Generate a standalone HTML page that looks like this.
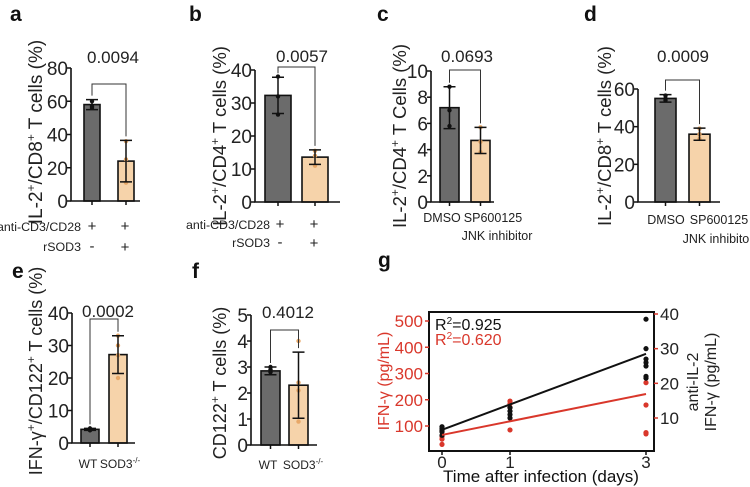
<!DOCTYPE html>
<html><head><meta charset="utf-8"><style>
body{margin:0;background:#fff;}
svg{display:block;font-family:"Liberation Sans",Arial,sans-serif;}
</style></head><body>
<svg id="fig" width="750" height="487" viewBox="0 0 750 487"></svg>
<script>
// ---- Panel data ----
const aCats = ["ctrl","rSOD3"];
const aMeans = [58, 24];
const aSD = [3, 12.5];
const aPts1 = [60, 57, 56];
const aPts2 = [36, 25, 11];
const aTicks = [0, 20, 40, 60, 80];

const bCats = ["ctrl","rSOD3"];
const bMeans = [32.3, 13.6];
const bSD = [5.5, 2.2];
const bPts1 = [38, 32, 26.5];
const bPts2 = [15.5, 14, 11];
const bTicks = [0, 10, 20, 30, 40];

const cCats = ["DMSO","SP600125"];
const cMeans = [7.2, 4.7];
const cSD = [1.6, 1.0];
const cPts1 = [8.8, 7.0, 5.8];
const cPts2 = [5.7, 4.6, 3.8];
const cTicks = [0, 2, 4, 6, 8, 10];

const dCats = ["DMSO","SP600125"];
const dMeans = [55, 36];
const dSD = [2, 3.2];
const dPts1 = [56.5, 54, 55];
const dPts2 = [39, 36, 33.5];
const dTicks = [0, 20, 40, 60];

const eCats = ["WT","SOD3-/-"];
const eMeans = [4.2, 27.2];
const eSD = [0.3, 5.8];
const ePts1 = [4.0, 4.3, 4.5, 3.9];
const ePts2 = [33, 30, 20, 27];
const eTicks = [0, 10, 20, 30, 40];

const fCats = ["WT","SOD3-/-"];
const fMeans = [2.85, 2.3];
const fSD = [0.15, 1.27];
const fPts1 = [3.0, 2.8, 2.9];
const fPts2 = [4.0, 2.4, 0.9, 2.1];
const fTicks = [0, 1, 2, 3, 4, 5];

// panel g
const gDays = [0, 1, 3];
const gBlack0 = [5, 6, 6.5, 7, 7.5];
const gBlack1 = [13, 12, 11, 10];
const gBlack3 = [38.5, 30, 27, 26, 25, 22, 21.5];
const gRed0 = [80, 60, 50, 30];
const gRed1 = [195, 185, 170, 85];
const gRed3 = [265, 180, 75, 70];
const gBlackFit = [6.6, 28.5];
const gRedFit = [66, 222];
const gLeftTicks = [100, 200, 300, 400, 500];
const gRightTicks = [10, 20, 30, 40];

const svg = document.getElementById('fig');
const NS = 'http://www.w3.org/2000/svg';
function mk(tag, at, parent){
  const e = document.createElementNS(NS, tag);
  for (const k in at) e.setAttribute(k, at[k]);
  (parent||svg).appendChild(e);
  return e;
}
function txt(s, at, parent){ const e = mk('text', at, parent); e.textContent = s; return e; }

const GRAY = '#6b6b6b', ORANGE = '#f6d3aa', ODOT = '#e8a868', RED = '#d9372b';
const SUP = s => `<tspan dy="-7" font-size="12">${s}</tspan>`;

function barPanel(p){
  const g = mk('g', {});
  
  
  const y = v => p.y0 - v / p.max * (p.y0 - p.yTop);
  p.means.forEach((m, i) => {
    const bx = p.barX[i];
    const r = mk('rect', {x: bx, y: y(m), width: p.bw, height: p.y0 - y(m), fill: i ? ORANGE : GRAY, stroke: '#111', 'stroke-width': 1.6}, g);
    
    
    const cx = bx + p.bw / 2;
    const pts = i ? p.pts2 : p.pts1;
    pts.forEach(v => {
      const d = mk('circle', {cx: cx, cy: y(v), r: 2.2, fill: i ? ODOT : '#111'}, g);
      
      
    });
    const hi = y(m + p.sd[i]), lo = y(Math.max(0, m - p.sd[i]));
    const eb = mk('path', {d: `M${cx},${hi}V${lo}M${cx-6},${hi}H${cx+6}M${cx-6},${lo}H${cx+6}`, stroke: '#111', 'stroke-width': 1.5, fill: 'none'}, g);
    
    
    mk('line', {x1: cx, y1: p.y0, x2: cx, y2: p.y0 + 4, stroke: '#111', 'stroke-width': 1.5}, g);
  });
  const ax = mk('path', {d: `M${p.ax},${y(p.ticks[p.ticks.length-1])}V${p.y0}H${p.xEnd}`, stroke: '#111', 'stroke-width': 1.6, fill: 'none'}, g);
  
  
  p.ticks.forEach(t => {
    mk('line', {x1: p.ax - 4, y1: y(t), x2: p.ax, y2: y(t), stroke: '#111', 'stroke-width': 1.5}, g);
    const tl = txt(String(t), {x: p.ax - 3, y: y(t) + 7, 'font-size': 19, 'text-anchor': 'end', fill: '#222'}, g);
    
    
  });
  const c0 = p.barX[0] + p.bw/2, c1 = p.barX[1] + p.bw/2;
  const br = mk('path', {d: `M${c0},${y(p.means[0]+p.sd[0])-4}V${p.brY}H${c1}V${y(p.means[1]+p.sd[1])-4}`, stroke: '#333', 'stroke-width': 1, fill: 'none'}, g);
  
  
  const pv = txt(p.pval, {x: p.pvX, y: p.pvY, 'font-size': 17, 'text-anchor': 'middle', fill: '#222'}, g);
  
  
  const yl = txt('', {transform: `translate(${p.ylX},${p.ylY}) rotate(-90)`, 'font-size': p.ylFs || 19, 'text-anchor': 'middle', fill: '#222'}, g);
  yl.innerHTML = p.ylabel;
  
  
  const lt = txt(p.letter, {x: p.lx, y: p.ly, 'font-size': 21, 'font-weight': 'bold', fill: '#111'}, g);
  
  
  return g;
}

const L_CD8 = 'IL-2' + SUP('+') + '<tspan dy="7">/CD8</tspan>' + SUP('+') + '<tspan dy="7"> T cells (%)</tspan>';
const L_CD4 = 'IL-2' + SUP('+') + '<tspan dy="7">/CD4</tspan>' + SUP('+') + '<tspan dy="7"> T cells (%)</tspan>';
const L_CD4c = 'IL-2' + SUP('+') + '<tspan dy="7">/CD4</tspan>' + SUP('+') + '<tspan dy="7"> T Cells (%)</tspan>';

barPanel({name:'panel-a', letter:'a', lx:10, ly:21, cats:aCats, means:aMeans, sd:aSD, pts1:aPts1, pts2:aPts2, ticks:aTicks, max:80, y0:201, yTop:68, ax:71, xEnd:140, barX:[84,118], bw:16, brY:84, pval:'0.0094', pvX:113, pvY:63, ylX:42, ylY:132, ylabel:L_CD8});
barPanel({name:'panel-b', letter:'b', lx:189, ly:21, cats:bCats, means:bMeans, sd:bSD, pts1:bPts1, pts2:bPts2, ticks:bTicks, max:40, y0:202, yTop:70, ax:255, xEnd:340, barX:[265,302], bw:26, brY:67, pval:'0.0057', pvX:302, pvY:62, ylX:226, ylY:136, ylFs:18.5, ylabel:L_CD4});
barPanel({name:'panel-c', letter:'c', lx:377, ly:21, cats:cCats, means:cMeans, sd:cSD, pts1:cPts1, pts2:cPts2, ticks:cTicks, max:10, y0:202, yTop:71, ax:431, xEnd:494, barX:[440,471], bw:19, brY:70, pval:'0.0693', pvX:467, pvY:62, ylX:406, ylY:136, ylFs:18.5, ylabel:L_CD4c});
barPanel({name:'panel-d', letter:'d', lx:584, ly:21, cats:dCats, means:dMeans, sd:dSD, pts1:dPts1, pts2:dPts2, ticks:dTicks, max:60, y0:202, yTop:89, ax:638, xEnd:720, barX:[655,689], bw:21, brY:80, pval:'0.0009', pvX:683, pvY:62, ylX:611, ylY:136, ylFs:18.5, ylabel:L_CD8});
barPanel({name:'panel-e', letter:'e', lx:12, ly:278, cats:eCats, means:eMeans, sd:eSD, pts1:ePts1, pts2:ePts2, ticks:eTicks, max:40, y0:443, yTop:313, ax:72, xEnd:135, barX:[81,109], bw:18, brY:319, pval:'0.0002', pvX:108, pvY:317, ylX:42, ylY:371, ylFs:18, ylabel:'IFN-γ' + SUP('+') + '<tspan dy="7">/CD122</tspan>' + SUP('+') + '<tspan dy="7"> T cells (%)</tspan>'});
barPanel({name:'panel-f', letter:'f', lx:192, ly:278, cats:fCats, means:fMeans, sd:fSD, pts1:fPts1, pts2:fPts2, ticks:fTicks, max:5, y0:445, yTop:315, ax:251, xEnd:317, barX:[261,289], bw:19, brY:330, pval:'0.4012', pvX:288, pvY:318, ylX:226, ylY:383, ylFs:18, ylabel:'CD122' + SUP('+') + '<tspan dy="7"> T cells (%)</tspan>'});

function label(s, x, y, anchor, size, name){
  const t = txt(s, {x: x, y: y, 'font-size': size, 'text-anchor': anchor, fill: '#222'});
  
  
  return t;
}
label('anti-CD3/CD28', 81, 231, 'end', 12.4, 'row-label-anti-cd3');
label('+', 92, 231, 'middle', 15, 'condition-sign');
label('+', 125, 231, 'middle', 15, 'condition-sign');
label('rSOD3', 81, 251, 'end', 12.4, 'row-label-rsod3');
label('-', 92, 251, 'middle', 15, 'condition-sign');
label('+', 125, 252, 'middle', 15, 'condition-sign');
label('anti-CD3/CD28', 270, 229, 'end', 12.4, 'row-label-anti-cd3');
label('+', 280, 229, 'middle', 15, 'condition-sign');
label('+', 314, 229, 'middle', 15, 'condition-sign');
label('rSOD3', 270, 247, 'end', 12.4, 'row-label-rsod3');
label('-', 280, 247, 'middle', 15, 'condition-sign');
label('+', 314, 248, 'middle', 15, 'condition-sign');
label('DMSO', 442, 222, 'middle', 12.5, 'x-label-dmso');
label('SP600125', 493, 222, 'middle', 12.5, 'x-label-sp600125');
label('JNK inhibitor', 497, 240, 'middle', 12.5, 'x-label-jnk');
label('DMSO', 666, 224, 'middle', 12.5, 'x-label-dmso');
label('SP600125', 719, 224, 'middle', 12.5, 'x-label-sp600125');
label('JNK inhibitor', 718, 243, 'middle', 12.5, 'x-label-jnk');
label('WT', 88, 468, 'middle', 12, 'x-label-wt');
const s1 = label('SOD3', 120, 468, 'middle', 12, 'x-label-sod3');
s1.innerHTML = 'SOD3<tspan dy="-5" font-size="8">-/-</tspan>';
label('WT', 268, 469, 'middle', 12, 'x-label-wt');
const s2 = label('SOD3', 303, 469, 'middle', 12, 'x-label-sod3');
s2.innerHTML = 'SOD3<tspan dy="-5" font-size="8">-/-</tspan>';

// ---- Panel g ----
const gG = mk('g', {});


const gx = d => 442 + d * 68;
const gyL = v => 426 - (v - 100) * 0.2625;
const gyR = v => 418 - (v - 10) * 3.467;
const frame = mk('rect', {x: 429, y: 312, width: 225, height: 139, fill: 'none', stroke: '#111', 'stroke-width': 2}, gG);


gLeftTicks.forEach(t => {
  mk('line', {x1: 425, y1: gyL(t), x2: 429, y2: gyL(t), stroke: RED, 'stroke-width': 1.5}, gG);
  const l = txt(String(t), {x: 423, y: gyL(t) + 6, 'font-size': 17, 'text-anchor': 'end', fill: RED}, gG);
  
  
});
gRightTicks.forEach(t => {
  mk('line', {x1: 654, y1: gyR(t), x2: 658, y2: gyR(t), stroke: RED, 'stroke-width': 1.5}, gG);
  const l = txt(String(t), {x: 660, y: gyR(t) + 6, 'font-size': 17, fill: '#222'}, gG);
  
  
});
gDays.forEach(d => {
  mk('line', {x1: gx(d), y1: 451, x2: gx(d), y2: 455, stroke: '#111', 'stroke-width': 1.5}, gG);
  const l = txt(String(d), {x: gx(d), y: 468, 'font-size': 17, 'text-anchor': 'middle', fill: '#222'}, gG);
  
  
});
const redSets = [gRed0, gRed1, gRed3];
const blackSets = [gBlack0, gBlack1, gBlack3];
redSets.forEach((arr, i) => arr.forEach(v => {
  const c = mk('circle', {cx: gx(gDays[i]), cy: gyL(v), r: 2.6, fill: RED}, gG);
  
  
}));
blackSets.forEach((arr, i) => arr.forEach(v => {
  const c = mk('circle', {cx: gx(gDays[i]), cy: gyR(v), r: 2.6, fill: '#111'}, gG);
  
  
}));
const rl = mk('line', {x1: gx(0), y1: gyL(gRedFit[0]), x2: gx(3), y2: gyL(gRedFit[1]), stroke: RED, 'stroke-width': 2}, gG);


const bl = mk('line', {x1: gx(0), y1: gyR(gBlackFit[0]), x2: gx(3), y2: gyR(gBlackFit[1]), stroke: '#111', 'stroke-width': 2}, gG);


const r1 = txt('', {x: 435, y: 330, 'font-size': 16, fill: '#111'}, gG);
r1.innerHTML = 'R<tspan dy="-6" font-size="10">2</tspan><tspan dy="6">=0.925</tspan>';


const r2 = txt('', {x: 435, y: 345, 'font-size': 16, fill: RED}, gG);
r2.innerHTML = 'R<tspan dy="-6" font-size="10">2</tspan><tspan dy="6">=0.620</tspan>';


const yl1 = txt('IFN-γ (pg/mL)', {transform: 'translate(389,381) rotate(-90)', 'font-size': 16, 'text-anchor': 'middle', fill: RED}, gG);


const yl2 = txt('anti-IL-2', {transform: 'translate(698,382) rotate(-90)', 'font-size': 16, 'text-anchor': 'middle', fill: '#222'}, gG);


const yl3 = txt('IFN-γ (pg/mL)', {transform: 'translate(716,382) rotate(-90)', 'font-size': 16, 'text-anchor': 'middle', fill: '#222'}, gG);


const xt = txt('Time after infection (days)', {x: 541, y: 482, 'font-size': 17, 'text-anchor': 'middle', fill: '#111'}, gG);


const gl = txt('g', {x: 378, y: 267, 'font-size': 21, 'font-weight': 'bold', fill: '#111'}, gG);


</script>
</body></html>
